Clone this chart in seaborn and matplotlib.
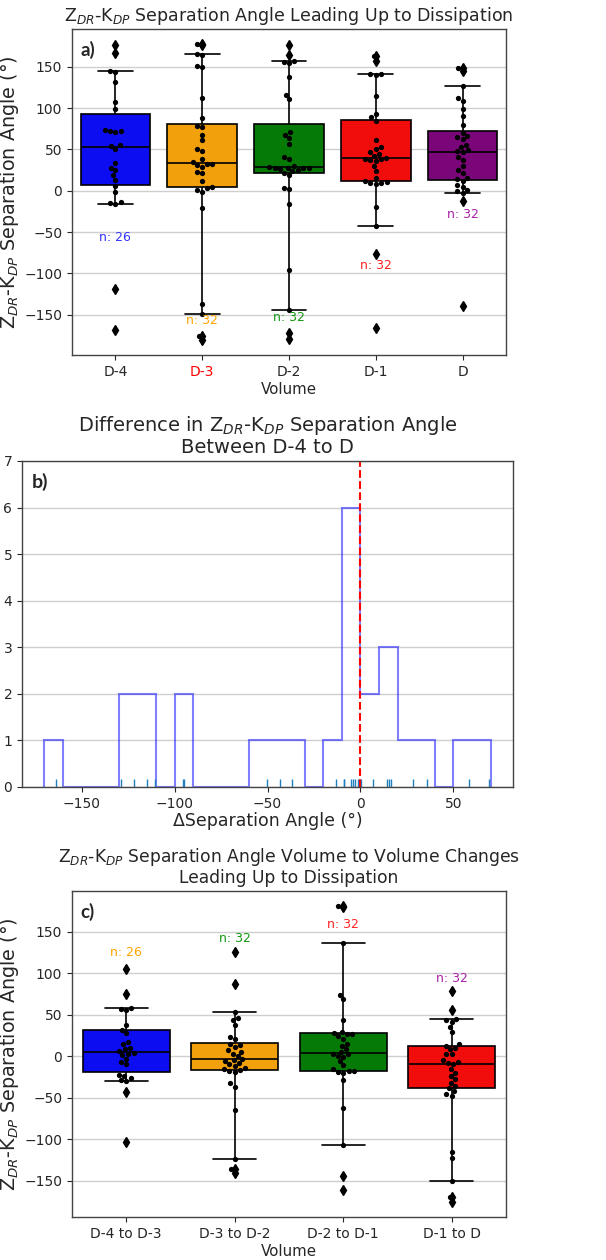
import numpy as np
import pandas as pd
import matplotlib
matplotlib.use("Agg")
import matplotlib.pyplot as plt
import seaborn as sns

# ---------------- data ----------------
vol_labels = ["D-4", "D-3", "D-2", "D-1", "D"]
sep_d4 = [-169, -119, -16.5, -15, -14, -1, 5.6, 13, 19, 25, 28, 34, 51, 54, 55, 71,
          72, 72, 74, 99, 108, 132, 144, 145, 167, 176]
sep_d3 = [-181, -176, -149, -137, -21, -1, 1, 3, 4.5, 12, 21, 23, 29, 31, 33, 33,
          35, 39, 48, 50, 61, 68, 77, 79, 88, 112, 150, 151, 165, 166, 177, 178]
sep_d2 = [-180, -172, -145, -96, -16, 1.6, 3.6, 19, 22, 24, 25, 26, 27, 27, 28, 28,
          29, 30, 38, 41, 57, 64, 68, 71, 111, 116, 138, 155, 156, 157, 164, 176]
sep_d1 = [-166, -77, -43, -20, 8, 9, 10, 10.5, 12, 15, 24, 30, 36, 37, 38, 39,
          40, 42, 44, 47, 50, 53, 61, 85, 89, 93, 115, 140, 141, 142, 157, 163]
sep_d0 = [-140, -13, -2.4, 0, 1, 5, 7, 12, 14, 15, 22, 25, 30, 37, 41, 47,
          48, 49, 53, 55, 63, 65, 66, 70, 80, 91, 99, 109, 112, 127, 145, 149]

delta_d4_d = [-163.9, -128.8, -121.7, -115, -110.5, -95.2, -94.7, -50.5, -43.4, -36.6,
              -13, -9.1, -8.8, -5.2, -4.0, -2.7, -1.5, 0.5, 6.7, 14.3, 15.5, 16.6,
              28.5, 35.7, 58.4, 69.0]
hist_bin_edges = list(range(-170, 71, 10))

chg_labels = ["D-4 to D-3", "D-3 to D-2", "D-2 to D-1", "D-1 to D"]
chg_1 = [-104, -43, -30, -29, -27, -24, -23, -10, -7, -3, 1, 3, 4, 6, 8, 10, 14, 17,
         28, 32, 37, 55, 57, 58, 75, 105]
chg_2 = [-141, -136, -124, -65, -37, -33, -19, -18, -17, -16, -14, -12, -10, -8, -6, -5,
         -3, 0, 3, 5, 7, 11, 13, 15, 20, 23, 37, 43, 46, 53, 87, 125]
chg_3 = [-161, -145, -107, -63, -29, -20, -19, -18, -18, -15, -11, -6, -1, 0, 2, 3,
         5, 8, 12, 15, 21, 24, 26, 27, 28, 29, 43, 69, 74, 136, 179, 181]
chg_4 = [-176, -170, -151, -123, -116, -48, -46, -42, -38, -36, -32, -28, -24, -20, -16, -10,
         -8, -7, -5, 2, 3, 8, 10, 12, 14, 29, 35, 41, 43, 45, 55, 78]

# ---------------- styles ----------------
box_colors_a = ["blue", "orange", "green", "red", "purple"]
box_colors_c = ["blue", "orange", "green", "red"]
n_colors_a = ["#3333ff", "orange", "#119911", "#ff2222", "#aa22aa"]
n_colors_c = ["orange", "#119911", "#ff2222", "#aa22aa"]
n_ypos_a = [-57, -157, -154, -90, -29]
n_ypos_c = [125, 142, 158, 94]

sns.set_style("ticks")
plt.rcParams["font.family"] = ["DejaVu Sans"]
plt.rcParams["axes.edgecolor"] = "#444444"
plt.rcParams["axes.linewidth"] = 1.0

TICK = 10
XLAB = 10.8
YLAB = 13.8
ylab = "Z$_{DR}$-K$_{DP}$ Separation Angle (°)"

fig = plt.figure(figsize=(6.06, 12.6), dpi=100)
W, H = 606, 1260


def axpos(l, r, t, b):
    return [l / W, 1 - b / H, (r - l) / W, (b - t) / H]


def box_panel(ax, labels, series, colors, ncolors, nypos):
    df = pd.DataFrame({
        "Volume": np.repeat(labels, [len(s) for s in series]),
        "val": np.concatenate([np.asarray(s, float) for s in series]),
    })
    sns.boxplot(data=df, x="Volume", y="val", hue="Volume", palette=colors,
                legend=False, whis=(5, 95), width=0.8, linecolor="black",
                linewidth=1.2, saturation=0.9,
                flierprops=dict(marker="d", markerfacecolor="black",
                                markeredgecolor="black", markersize=5),
                ax=ax)
    sns.swarmplot(data=df, x="Volume", y="val", color="black", size=3.8, ax=ax)
    for i, (s, c, yp) in enumerate(zip(series, ncolors, nypos)):
        ax.text(i, yp, f"n: {len(s)}", color=c, ha="center", va="center",
                fontsize=9)
    ax.yaxis.grid(True, color="#cfcfcf", linewidth=1.0)
    ax.set_axisbelow(True)
    ax.set_ylabel(ylab, fontsize=YLAB, labelpad=2)
    ax.set_xlabel("Volume", fontsize=XLAB, labelpad=2)
    ax.tick_params(labelsize=TICK)
    ax.set_yticks([-150, -100, -50, 0, 50, 100, 150])
    for sp in ax.spines.values():
        sp.set_visible(True)


# ---- panel a ----
ax1 = fig.add_axes(axpos(72, 506, 29, 355))
box_panel(ax1, vol_labels, [sep_d4, sep_d3, sep_d2, sep_d1, sep_d0],
          box_colors_a, n_colors_a, n_ypos_a)
ax1.set_title("Z$_{DR}$-K$_{DP}$ Separation Angle Leading Up to Dissipation",
              fontsize=12.5)
ax1.get_xticklabels()[1].set_color("red")
ax1.text(0.02, 0.965, "a)", transform=ax1.transAxes, fontsize=13.5,
         fontweight="bold", family="Lato", va="top", ha="left")

# ---- panel b ----
ax2 = fig.add_axes(axpos(22, 513, 461, 787))
ax2.hist(delta_d4_d, bins=hist_bin_edges, histtype="step", color="blue",
         alpha=0.5, linewidth=1.5)
sns.rugplot(x=delta_d4_d, height=0.025, color="#1f7fbf", linewidth=1.0, ax=ax2)
ax2.axvline(0, color="red", linestyle="--", linewidth=1.5)
ax2.set_ylim(0, 7)
ax2.set_xlim(-182, 82)
ax2.set_yticks(range(0, 8))
ax2.yaxis.grid(True, color="#cfcfcf", linewidth=1.0)
ax2.set_axisbelow(True)
ax2.set_ylabel("")
ax2.set_xlabel("ΔSeparation Angle (°)", fontsize=12.5, labelpad=1)
ax2.tick_params(labelsize=TICK)
ax2.set_title("Difference in Z$_{DR}$-K$_{DP}$ Separation Angle\nBetween D-4 to D",
              fontsize=14, linespacing=1.05)
ax2.text(0.02, 0.965, "b)", transform=ax2.transAxes, fontsize=14,
         fontweight="bold", family="Lato", va="top", ha="left")

# ---- panel c ----
ax3 = fig.add_axes(axpos(72, 506, 891, 1217))
box_panel(ax3, chg_labels, [chg_1, chg_2, chg_3, chg_4],
          box_colors_c, n_colors_c, n_ypos_c)
ax3.set_title("Z$_{DR}$-K$_{DP}$ Separation Angle Volume to Volume Changes\n"
              "Leading Up to Dissipation", fontsize=12.3, linespacing=1.05)
ax3.text(0.02, 0.965, "c)", transform=ax3.transAxes, fontsize=13.5,
         fontweight="bold", family="Lato", va="top", ha="left")

fig.savefig("out.png", dpi=100)
